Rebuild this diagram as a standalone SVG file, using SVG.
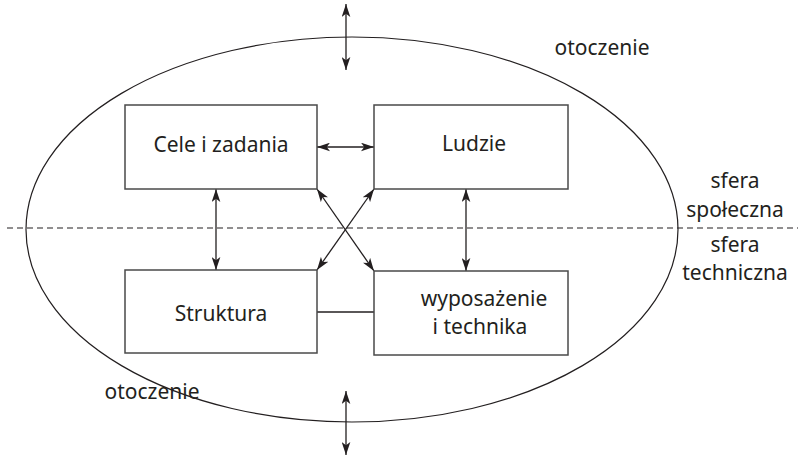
<svg xmlns="http://www.w3.org/2000/svg" width="798" height="457" viewBox="0 0 798 457">
<style>
.box{fill:#fff;stroke:#4a4a4a;stroke-width:1.5}
.t{font-family:"Noto Sans","Open Sans",sans-serif;font-size:21px;fill:#231f20;text-anchor:middle}
.c{stroke:#231f20;stroke-width:1.3;fill:none}
.a{marker-start:url(#ah);marker-end:url(#ah)}
</style>
<defs>
<marker id="ah" viewBox="0 0 12 8" refX="12" refY="4" markerWidth="13" markerHeight="9" markerUnits="userSpaceOnUse" orient="auto-start-reverse">
<path d="M0,0 L12,4 L0,8 L3,4 z" fill="#231f20"/>
</marker>
</defs>
<rect width="798" height="457" fill="#fff"/>
<g id="environment">
<ellipse cx="352" cy="229.5" rx="326" ry="192.5" fill="none" stroke="#231f20" stroke-width="1.2"/>
<line x1="7" y1="228" x2="798" y2="228" stroke="#231f20" stroke-width="1.2" stroke-dasharray="6,4"/>
</g>
<g id="connectors">
<line class="c a" x1="346" y1="4" x2="346" y2="70"/>
<line class="c a" x1="346" y1="391" x2="346" y2="455"/>
<line class="c a" x1="317" y1="147" x2="374" y2="147"/>
<line class="c a" x1="216" y1="189" x2="216" y2="270"/>
<line class="c a" x1="466" y1="189" x2="466" y2="271"/>
<line class="c a" x1="317" y1="189" x2="374" y2="271"/>
<line class="c a" x1="374" y1="189" x2="317" y2="270"/>
<line class="c" x1="317" y1="312" x2="374" y2="312"/>
</g>
<g id="cele">
<rect class="box" x="125" y="105" width="192" height="84"/>
<text class="t" x="221" y="152">Cele i zadania</text>
</g>
<g id="ludzie">
<rect class="box" x="374" y="105" width="194" height="84"/>
<text class="t" x="474" y="151">Ludzie</text>
</g>
<g id="struktura">
<rect class="box" x="125" y="270" width="192" height="83"/>
<text class="t" x="221" y="321">Struktura</text>
</g>
<g id="wyposazenie">
<rect class="box" x="374" y="271" width="194" height="84"/>
<text class="t" x="484" y="306">wyposażenie</text>
<text class="t" x="480" y="334">i technika</text>
</g>
<g id="labels">
<text class="t" x="602" y="55">otoczenie</text>
<text class="t" x="152" y="399">otoczenie</text>
<text class="t" x="735" y="188">sfera</text>
<text class="t" x="735" y="217">społeczna</text>
<text class="t" x="735" y="252">sfera</text>
<text class="t" x="735" y="280">techniczna</text>
</g>
</svg>
